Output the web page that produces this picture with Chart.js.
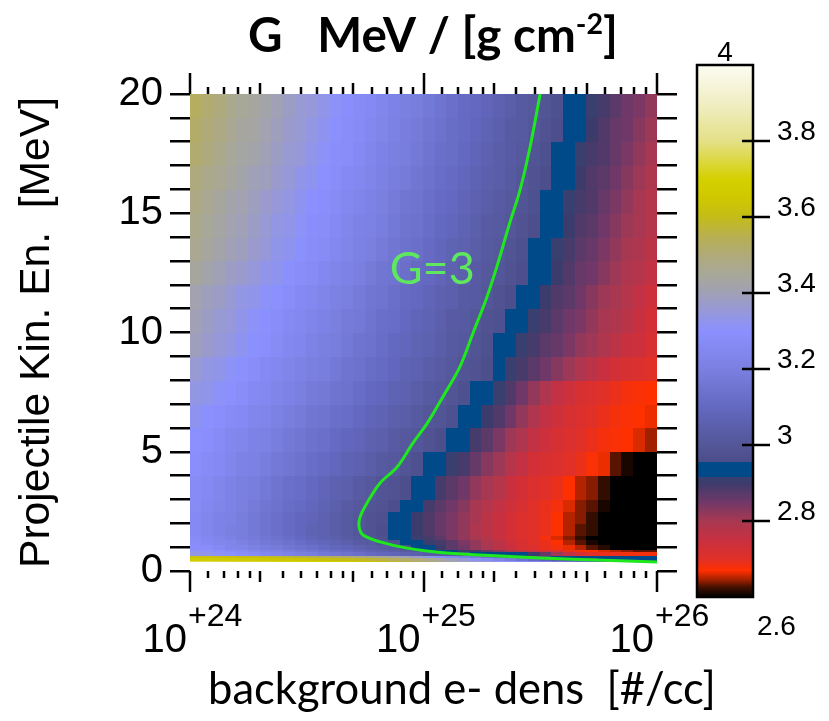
<!DOCTYPE html>
<html>
<head>
<meta charset="utf-8">
<script src="https://cdn.jsdelivr.net/npm/chart.js@4.4.1/dist/chart.umd.min.js"></script>
<style>
  html, body { margin: 0; padding: 0; background: #fff; }
  #wrap { position: relative; width: 829px; height: 721px; overflow: hidden; }
  #main { position: absolute; left: 0; top: 0; }
  #bar { position: absolute; left: 680px; top: 0; }
</style>
</head>
<body>
<div id="wrap">
  <canvas id="main" width="829" height="721"></canvas>
  <canvas id="bar" width="149" height="721"></canvas>
</div>
<script>
// cell edges of the map: background electron density [#/cc] and projectile energy [MeV]
var DENS_EDGES = [
  1.000e24, 1.122e24, 1.259e24, 1.413e24, 1.585e24, 1.778e24, 1.995e24, 2.239e24, 2.512e24, 2.818e24,
  3.162e24, 3.548e24, 3.981e24, 4.467e24, 5.012e24, 5.623e24, 6.310e24, 7.079e24, 7.943e24, 8.913e24,
  1.000e25, 1.122e25, 1.259e25, 1.413e25, 1.585e25, 1.778e25, 1.995e25, 2.239e25, 2.512e25, 2.818e25,
  3.162e25, 3.548e25, 3.981e25, 4.467e25, 5.012e25, 5.623e25, 6.310e25, 7.079e25, 7.943e25, 8.913e25,
  1.000e26
];
var ENERGY_EDGES = [0.38, 0.46, 0.55, 0.65, 0.8, 0.92, 1.1, 1.3, 1.5, 2, 2.5, 3, 4, 5, 6, 7, 8,
                    9, 10, 11, 12, 13, 14, 15, 16, 17, 18, 19, 20];

// G values, one row per energy band (lowest energy first), 40 density cells each
var G_ROWS = [
  [3.76,3.76,3.75,3.75,3.74,3.74,3.73,3.72,3.71,3.70, 3.69,3.68,3.67,3.66,3.64,3.62,3.60,3.58,3.56,3.53, 3.50,3.47,3.44,3.41,3.38,3.35,3.32,3.29,3.26,3.23, 3.20,3.17,3.14,3.11,3.08,3.06,3.04,3.02,3.01,3.00],
  [3.68,3.68,3.67,3.67,3.66,3.66,3.65,3.65,3.64,3.64, 3.63,3.62,3.61,3.60,3.59,3.58,3.56,3.54,3.52,3.50, 3.47,3.43,3.39,3.35,3.31,3.27,3.23,3.19,3.15,3.11, 3.07,3.04,3.01,2.99,2.97,2.95,2.94,2.93,2.93,2.92],
  [3.63,3.63,3.62,3.62,3.61,3.61,3.60,3.59,3.58,3.57, 3.56,3.55,3.54,3.52,3.50,3.48,3.46,3.43,3.40,3.37, 3.33,3.29,3.25,3.21,3.17,3.13,3.09,3.05,3.02,2.99, 2.96,2.94,2.93,2.92,2.92,2.92,2.92,2.92,2.92,2.92],
  [3.34,3.33,3.31,3.30,3.28,3.27,3.25,3.23,3.22,3.20, 3.19,3.17,3.16,3.14,3.13,3.11,3.09,3.08,3.06,3.05, 3.03,3.02,3.00,2.96,2.94,2.93,2.93,2.92,2.92,2.90, 2.86,2.81,2.76,2.72,2.70,2.69,2.69,2.68,2.68,2.68],
  [3.32,3.31,3.29,3.27,3.26,3.24,3.22,3.21,3.19,3.17, 3.16,3.14,3.12,3.11,3.09,3.07,3.06,3.04,3.02,3.01, 2.98,2.95,2.93,2.91,2.89,2.86,2.83,2.80,2.77,2.75, 2.73,2.71,2.69,2.68,2.67,2.66,2.65,2.64,2.63,2.63],
  [3.29,3.28,3.26,3.24,3.23,3.21,3.19,3.18,3.16,3.14, 3.13,3.11,3.09,3.08,3.06,3.04,3.03,3.01,2.96,2.94, 2.92,2.90,2.87,2.85,2.82,2.80,2.77,2.75,2.72,2.71, 2.69,2.68,2.665,2.65,2.63,2.615,2.60,2.60,2.60,2.60],
  [3.28,3.26,3.24,3.23,3.21,3.19,3.17,3.16,3.14,3.12, 3.10,3.09,3.07,3.05,3.03,3.02,2.99,2.97,2.95,2.93, 2.905,2.89,2.87,2.84,2.82,2.79,2.77,2.74,2.72,2.70, 2.69,2.67,2.65,2.63,2.61,2.60,2.60,2.60,2.60,2.60],
  [3.27,3.25,3.23,3.21,3.19,3.18,3.16,3.14,3.12,3.10, 3.08,3.06,3.05,3.03,3.01,2.99,2.97,2.95,2.93,2.91, 2.89,2.87,2.84,2.82,2.80,2.78,2.75,2.73,2.71,2.70, 2.68,2.66,2.64,2.62,2.60,2.60,2.60,2.60,2.60,2.60],
  [3.26,3.24,3.22,3.20,3.19,3.17,3.15,3.13,3.11,3.09, 3.07,3.06,3.04,3.02,3.00,2.98,2.96,2.94,2.92,2.90, 2.88,2.86,2.84,2.82,2.79,2.77,2.75,2.73,2.71,2.70, 2.69,2.67,2.65,2.63,2.62,2.60,2.60,2.60,2.60,2.60],
  [3.26,3.24,3.22,3.21,3.19,3.17,3.15,3.13,3.11,3.09, 3.08,3.06,3.04,3.02,3.00,2.98,2.97,2.95,2.92,2.90, 2.88,2.86,2.84,2.82,2.80,2.77,2.75,2.73,2.71,2.70, 2.69,2.67,2.65,2.64,2.62,2.60,2.60,2.60,2.60,2.60],
  [3.27,3.25,3.23,3.22,3.20,3.18,3.16,3.14,3.12,3.11, 3.09,3.07,3.05,3.03,3.01,2.99,2.98,2.96,2.94,2.92, 2.89,2.87,2.85,2.83,2.80,2.78,2.76,2.74,2.72,2.70, 2.69,2.68,2.66,2.64,2.63,2.61,2.60,2.60,2.60,2.60],
  [3.27,3.26,3.24,3.22,3.20,3.19,3.17,3.15,3.13,3.12, 3.10,3.08,3.06,3.05,3.03,3.01,2.99,2.98,2.96,2.94, 2.92,2.89,2.87,2.85,2.82,2.80,2.78,2.75,2.73,2.71, 2.70,2.69,2.67,2.65,2.64,2.62,2.60,2.60,2.60,2.60],
  [3.29,3.27,3.26,3.24,3.22,3.21,3.19,3.17,3.16,3.14, 3.12,3.11,3.09,3.07,3.06,3.04,3.02,3.01,2.99,2.97, 2.95,2.93,2.91,2.89,2.86,2.83,2.81,2.78,2.76,2.73, 2.72,2.71,2.70,2.69,2.675,2.665,2.63,2.61,2.60,2.60],
  [3.30,3.29,3.27,3.25,3.24,3.22,3.21,3.19,3.17,3.16, 3.14,3.13,3.11,3.09,3.08,3.06,3.05,3.03,3.01,3.00, 2.98,2.96,2.94,2.92,2.89,2.87,2.84,2.81,2.79,2.76, 2.74,2.72,2.71,2.70,2.69,2.68,2.675,2.67,2.66,2.645],
  [3.32,3.30,3.29,3.27,3.26,3.24,3.23,3.21,3.19,3.18, 3.16,3.15,3.13,3.12,3.10,3.08,3.07,3.05,3.04,3.02, 3.00,2.99,2.97,2.95,2.93,2.90,2.88,2.85,2.82,2.79, 2.76,2.74,2.72,2.71,2.70,2.69,2.68,2.675,2.67,2.665],
  [3.34,3.33,3.31,3.30,3.28,3.26,3.25,3.23,3.22,3.20, 3.18,3.17,3.15,3.14,3.12,3.10,3.09,3.07,3.06,3.04, 3.02,3.01,2.99,2.97,2.95,2.93,2.91,2.88,2.85,2.82, 2.79,2.76,2.74,2.72,2.71,2.70,2.69,2.68,2.675,2.67],
  [3.36,3.34,3.33,3.31,3.30,3.28,3.26,3.25,3.23,3.22, 3.20,3.19,3.17,3.15,3.14,3.12,3.11,3.09,3.07,3.06, 3.04,3.03,3.01,2.99,2.98,2.96,2.935,2.91,2.89,2.87, 2.85,2.83,2.81,2.79,2.77,2.75,2.73,2.72,2.71,2.70],
  [3.39,3.37,3.35,3.34,3.32,3.30,3.29,3.27,3.25,3.24, 3.22,3.20,3.19,3.17,3.15,3.14,3.12,3.10,3.09,3.07, 3.06,3.04,3.02,3.01,2.99,2.97,2.95,2.93,2.91,2.89, 2.87,2.86,2.84,2.82,2.81,2.79,2.77,2.75,2.74,2.72],
  [3.40,3.38,3.36,3.35,3.33,3.31,3.30,3.28,3.26,3.25, 3.23,3.22,3.20,3.18,3.17,3.15,3.13,3.12,3.10,3.08, 3.07,3.05,3.03,3.02,3.00,2.98,2.97,2.95,2.92,2.91, 2.89,2.87,2.85,2.84,2.82,2.80,2.79,2.77,2.75,2.73],
  [3.41,3.39,3.38,3.36,3.34,3.33,3.31,3.30,3.28,3.26, 3.25,3.23,3.21,3.20,3.18,3.16,3.15,3.13,3.11,3.10, 3.08,3.06,3.05,3.03,3.02,3.00,2.98,2.96,2.94,2.92, 2.90,2.88,2.87,2.85,2.83,2.81,2.80,2.78,2.76,2.74],
  [3.44,3.42,3.40,3.38,3.37,3.35,3.33,3.32,3.30,3.28, 3.27,3.25,3.23,3.22,3.20,3.18,3.16,3.15,3.13,3.11, 3.10,3.08,3.06,3.05,3.03,3.01,3.00,2.98,2.96,2.94, 2.92,2.90,2.88,2.86,2.85,2.83,2.81,2.79,2.78,2.76],
  [3.46,3.44,3.42,3.40,3.39,3.37,3.35,3.33,3.32,3.30, 3.28,3.27,3.25,3.23,3.21,3.20,3.18,3.16,3.14,3.13, 3.11,3.09,3.07,3.06,3.04,3.02,3.01,2.99,2.97,2.95, 2.93,2.91,2.89,2.87,2.86,2.84,2.82,2.80,2.79,2.77],
  [3.47,3.45,3.43,3.41,3.40,3.38,3.36,3.34,3.33,3.31, 3.29,3.28,3.26,3.24,3.22,3.21,3.19,3.17,3.15,3.14, 3.12,3.10,3.09,3.07,3.05,3.03,3.02,3.00,2.98,2.96, 2.94,2.92,2.90,2.88,2.87,2.85,2.83,2.81,2.80,2.78],
  [3.48,3.46,3.44,3.42,3.41,3.39,3.37,3.35,3.34,3.32, 3.30,3.29,3.27,3.25,3.23,3.22,3.20,3.18,3.16,3.15, 3.13,3.11,3.10,3.08,3.06,3.04,3.03,3.01,2.99,2.97, 2.955,2.93,2.91,2.89,2.88,2.86,2.84,2.82,2.80,2.78],
  [3.49,3.47,3.46,3.44,3.42,3.40,3.39,3.37,3.35,3.33, 3.32,3.30,3.28,3.26,3.25,3.23,3.21,3.19,3.18,3.16, 3.14,3.12,3.11,3.09,3.07,3.05,3.04,3.02,3.00,2.98, 2.96,2.94,2.92,2.90,2.88,2.87,2.85,2.83,2.81,2.79],
  [3.51,3.49,3.47,3.45,3.43,3.42,3.40,3.38,3.36,3.35, 3.33,3.31,3.29,3.28,3.26,3.24,3.22,3.20,3.19,3.17, 3.15,3.13,3.12,3.10,3.08,3.06,3.04,3.03,3.01,2.99, 2.97,2.955,2.93,2.91,2.89,2.88,2.86,2.84,2.82,2.80],
  [3.52,3.50,3.48,3.46,3.44,3.43,3.41,3.39,3.37,3.36, 3.34,3.32,3.30,3.28,3.27,3.25,3.23,3.21,3.19,3.18, 3.16,3.14,3.12,3.11,3.09,3.07,3.05,3.03,3.02,3.00, 2.98,2.96,2.94,2.92,2.90,2.88,2.86,2.85,2.83,2.81],
  [3.53,3.51,3.49,3.47,3.45,3.44,3.42,3.40,3.38,3.36, 3.35,3.33,3.31,3.29,3.27,3.26,3.24,3.22,3.20,3.19, 3.17,3.15,3.13,3.11,3.10,3.08,3.06,3.04,3.02,3.01, 2.99,2.97,2.95,2.93,2.91,2.89,2.87,2.85,2.84,2.82]
];

// G = 3 contour (green line)
var CONTOUR_DENS = [3.16e25, 2.86e25, 2.59e25, 2.34e25, 2.06e25, 1.87e25, 1.63e25, 1.43e25, 1.21e25, 1.04e25, 9.02e24, 7.71e24,
                    6.52e24, 5.73e24, 5.35e24, 5.30e24, 5.51e24, 6.52e24, 8.50e24, 1.18e25, 2.13e25, 4.68e25, 1.00e26];
var CONTOUR_EN = [20, 17.78, 15.97, 14.59, 12.75, 11.49, 9.98, 8.55, 7.30, 6.21, 5.37, 4.36,
                  3.69, 2.85, 2.26, 1.84, 1.51, 1.22, 0.96, 0.78, 0.63, 0.48, 0.38];
var CONTOUR_LABEL = 'G=3';
var CONTOUR_LABEL_AT = { x: 1.09e25, y: 12.7 };

// axis ticks
var X_DECADES = [1e24, 1e25, 1e26];
var X_DECADE_EXP = ['+24', '+25', '+26'];
var X_MINOR = [1.2, 1.4, 1.6, 1.8, 2, 2.5, 3, 3.5, 4, 4.5, 5, 6, 7, 8, 9];

// colour table of the bar (value -> colour)
var CMAP_VALUES = [2.6, 2.625, 2.645, 2.67, 2.70, 2.75, 2.80, 2.85, 2.90, 2.915, 2.915, 2.955, 2.955, 3.0,
                   3.1, 3.2, 3.3, 3.4, 3.45, 3.5, 3.55, 3.6, 3.65, 3.7, 3.8, 3.9, 4.0];
var CMAP_COLORS = ['#000000', '#401000', '#a02000', '#ff3000', '#e03028', '#c83040', '#a83852', '#703868', '#3c3c6c',
                   '#384070', '#004a8a', '#004a8a', '#4c4e8a', '#535698', '#6468c0', '#7a80e0', '#8b90ff', '#a0a0b6',
                   '#a8a898', '#b0aa78', '#b8b050', '#c4bc18', '#cfc800', '#d4d000', '#e4e088', '#f0eec4', '#fcfcf2'];
var G_MIN = 2.6, G_MAX = 4;

function hexRgb(h) {
  return [parseInt(h.substr(1, 2), 16), parseInt(h.substr(3, 2), 16), parseInt(h.substr(5, 2), 16)];
}
function colorFor(g) {
  if (g <= CMAP_VALUES[0]) return CMAP_COLORS[0];
  for (var i = 0; i < CMAP_VALUES.length - 1; i++) {
    var a = CMAP_VALUES[i], b = CMAP_VALUES[i + 1];
    if (b > a && g >= a && g <= b) {
      var t = (g - a) / (b - a), ca = hexRgb(CMAP_COLORS[i]), cb = hexRgb(CMAP_COLORS[i + 1]);
      return 'rgb(' + Math.round(ca[0] + (cb[0] - ca[0]) * t) + ',' + Math.round(ca[1] + (cb[1] - ca[1]) * t) + ',' +
        Math.round(ca[2] + (cb[2] - ca[2]) * t) + ')';
    }
  }
  return CMAP_COLORS[CMAP_COLORS.length - 1];
}

var measureCtx = document.createElement('canvas').getContext('2d');
function fitSize(text, weight, family, width) {
  measureCtx.font = weight + ' 100px "' + family + '"';
  return 100 * width / measureCtx.measureText(text).width;
}

var SANS = 'Liberation Sans';
var HUMAN = 'Lato';
var yTitleText = 'Projectile Kin. En.  [MeV]';
var yTitleSize = fitSize(yTitleText, 'normal', SANS, 471);

var heatmapPlugin = {
  id: 'heatmap',
  beforeDatasetsDraw: function(chart) {
    var ctx = chart.ctx, xs = chart.scales.x, ys = chart.scales.y, area = chart.chartArea;
    ctx.save();
    ctx.beginPath();
    ctx.rect(area.left, area.top, area.right - area.left, area.bottom - area.top);
    ctx.clip();
    for (var r = 0; r < G_ROWS.length; r++) {
      var yTop = ys.getPixelForValue(ENERGY_EDGES[r + 1]);
      var yBot = ys.getPixelForValue(ENERGY_EDGES[r]);
      for (var c = 0; c < G_ROWS[r].length; c++) {
        var x0 = xs.getPixelForValue(DENS_EDGES[c]);
        var x1 = xs.getPixelForValue(DENS_EDGES[c + 1]);
        ctx.fillStyle = colorFor(G_ROWS[r][c]);
        ctx.fillRect(Math.floor(x0), Math.floor(yTop), Math.ceil(x1) - Math.floor(x0), Math.ceil(yBot) - Math.floor(yTop));
      }
    }
    ctx.restore();
  }
};

var decorPlugin = {
  id: 'decor',
  afterDraw: function(chart) {
    var ctx = chart.ctx, xs = chart.scales.x, ys = chart.scales.y, area = chart.chartArea;
    ctx.save();
    ctx.strokeStyle = '#000';
    ctx.lineWidth = 2.5;
    var xTick = function(v, len) {
      var px = Math.round(xs.getPixelForValue(v));
      ctx.beginPath();
      ctx.moveTo(px, area.top);
      ctx.lineTo(px, area.top - len);
      ctx.moveTo(px, area.bottom);
      ctx.lineTo(px, area.bottom + len);
      ctx.stroke();
    };
    X_DECADES.forEach(function(d, i) {
      xTick(d, 21);
      if (i < X_DECADES.length - 1) {
        X_MINOR.forEach(function(m) { xTick(d * m, (m === 2 || m === 5) ? 11 : 7); });
      }
    });

    // decade labels 10^+nn
    ctx.fillStyle = '#000';
    ctx.textBaseline = 'alphabetic';
    ctx.textAlign = 'left';
    X_DECADES.forEach(function(d, i) {
      ctx.font = '40px "' + SANS + '"';
      var w1 = ctx.measureText('10').width;
      ctx.font = '32px "' + SANS + '"';
      var w2 = ctx.measureText(X_DECADE_EXP[i]).width;
      var x0 = xs.getPixelForValue(d) + 2 - (w1 + w2) / 2;
      ctx.font = '40px "' + SANS + '"';
      ctx.fillText('10', x0, 652);
      ctx.font = '32px "' + SANS + '"';
      ctx.fillText(X_DECADE_EXP[i], x0 + w1 + 1, 626);
    });

    // x title
    var xt = 'background e- dens  [#/cc]';
    var xs2 = fitSize(xt, 'normal', HUMAN, 508);
    ctx.font = xs2 + 'px "' + HUMAN + '"';
    ctx.textAlign = 'center';
    ctx.fillText(xt, 462, 704);

    // chart title with superscript
    var t1 = 'G   MeV / [g cm', t2 = '-2', t3 = ']';
    measureCtx.font = 'bold 100px "' + HUMAN + '"';
    var u1 = measureCtx.measureText(t1).width, u3 = measureCtx.measureText(t3).width;
    measureCtx.font = 'bold 60px "' + HUMAN + '"';
    var u2 = measureCtx.measureText(t2).width;
    var ts = 100 * 370 / (u1 + u2 + u3);
    var k = ts / 100;
    var tx = 433 - 370 / 2;
    ctx.textAlign = 'left';
    ctx.font = 'bold ' + ts + 'px "' + HUMAN + '"';
    ctx.fillText(t1, tx, 52);
    ctx.font = 'bold ' + (ts * 0.6) + 'px "' + HUMAN + '"';
    ctx.fillText(t2, tx + u1 * k, 52 - ts * 0.38);
    ctx.font = 'bold ' + ts + 'px "' + HUMAN + '"';
    ctx.fillText(t3, tx + (u1 + u2) * k, 52);

    // contour label
    var ls = fitSize(CONTOUR_LABEL, 'normal', HUMAN, 85);
    ctx.font = ls + 'px "' + HUMAN + '"';
    ctx.fillStyle = '#5ee85e';
    ctx.textAlign = 'center';
    ctx.fillText(CONTOUR_LABEL, xs.getPixelForValue(CONTOUR_LABEL_AT.x), ys.getPixelForValue(CONTOUR_LABEL_AT.y) + ls * 0.36);
    ctx.restore();
  }
};

var mainChart = new Chart(document.getElementById('main'), {
  type: 'scatter',
  data: {
    datasets: [{
      label: CONTOUR_LABEL,
      data: CONTOUR_DENS.map(function(d, i) { return { x: d, y: CONTOUR_EN[i] }; }),
      showLine: true,
      borderColor: '#1fe81f',
      borderWidth: 3,
      pointRadius: 0,
      tension: 0.35,
      fill: false
    }]
  },
  options: {
    responsive: false,
    animation: false,
    layout: { padding: { top: 94, right: 132, left: 0, bottom: 0 } },
    plugins: { legend: { display: false }, tooltip: { enabled: false }, title: { display: false } },
    scales: {
      x: {
        type: 'logarithmic', position: 'bottom', min: 1e24, max: 1e26,
        ticks: { display: false },
        grid: { display: false },
        border: { display: false },
        afterFit: function(s) { s.height = 150; }
      },
      y: {
        type: 'linear', position: 'left', min: 0, max: 20,
        ticks: {
          stepSize: 1, autoSkip: false, color: '#000', padding: 7,
          font: { family: SANS, size: 40 },
          callback: function(v) { return v % 5 === 0 ? String(v) : ''; }
        },
        grid: { drawOnChartArea: false, drawTicks: true, tickLength: 20, color: '#000', lineWidth: 2.5 },
        border: { display: false },
        title: {
          display: true, text: yTitleText, color: '#000',
          font: { family: SANS, size: yTitleSize }, padding: { top: 12, bottom: 0 }
        },
        afterFit: function(s) { s.width = 190; }
      },
      y2: {
        type: 'linear', position: 'right', min: 0, max: 20,
        ticks: { stepSize: 1, autoSkip: false, display: false },
        grid: { drawOnChartArea: false, drawTicks: true, tickLength: 20, color: '#000', lineWidth: 2.5 },
        border: { display: false },
        afterFit: function(s) { s.width = 40; }
      }
    }
  },
  plugins: [heatmapPlugin, decorPlugin]
});

var colorbarPlugin = {
  id: 'colorbar',
  beforeDatasetsDraw: function(chart) {
    var ctx = chart.ctx, ys = chart.scales.y, area = chart.chartArea;
    var yLo = ys.getPixelForValue(G_MIN), yHi = ys.getPixelForValue(G_MAX);
    var grad = ctx.createLinearGradient(0, yLo, 0, yHi);
    CMAP_VALUES.forEach(function(v, i) {
      grad.addColorStop((yLo - ys.getPixelForValue(v)) / (yLo - yHi), CMAP_COLORS[i]);
    });
    ctx.save();
    ctx.fillStyle = grad;
    ctx.fillRect(area.left, area.top, area.right - area.left, area.bottom - area.top);
    ctx.strokeStyle = '#000';
    ctx.lineWidth = 2.5;
    ctx.strokeRect(area.left, area.top, area.right - area.left, area.bottom - area.top);
    ys.ticks.forEach(function(t) {
      if (t.value <= G_MIN + 1e-6 || t.value >= G_MAX - 1e-6) return;
      var py = Math.round(ys.getPixelForValue(t.value));
      ctx.beginPath();
      ctx.moveTo(area.right - 11, py);
      ctx.lineTo(area.right + 17, py);
      ctx.stroke();
    });
    ctx.fillStyle = '#000';
    ctx.font = '28px "' + SANS + '"';
    ctx.textAlign = 'center';
    ctx.fillText('4', (area.left + area.right) / 2, yHi - 4);
    ctx.textAlign = 'left';
    ctx.fillText('2.6', area.right + 4, yLo + 38);
    ctx.restore();
  }
};

var barChart = new Chart(document.getElementById('bar'), {
  type: 'scatter',
  data: { datasets: [] },
  options: {
    responsive: false,
    animation: false,
    layout: { padding: { left: 17, top: 65, bottom: 124, right: 0 } },
    plugins: { legend: { display: false }, tooltip: { enabled: false } },
    scales: {
      x: { display: false, min: 0, max: 1 },
      y: {
        type: 'linear', position: 'right', min: G_MIN, max: G_MAX,
        ticks: {
          stepSize: 0.2, autoSkip: false, color: '#000', padding: 24, labelOffset: -9,
          font: { family: SANS, size: 28 },
          callback: function(v) {
            if (Math.abs(v - G_MIN) < 1e-6 || Math.abs(v - G_MAX) < 1e-6) return '';
            return String(Math.round(v * 10) / 10);
          }
        },
        grid: { display: false, drawTicks: false },
        border: { display: false },
        afterFit: function(s) { s.width = 76; }
      }
    }
  },
  plugins: [colorbarPlugin]
});
</script>
</body>
</html>
